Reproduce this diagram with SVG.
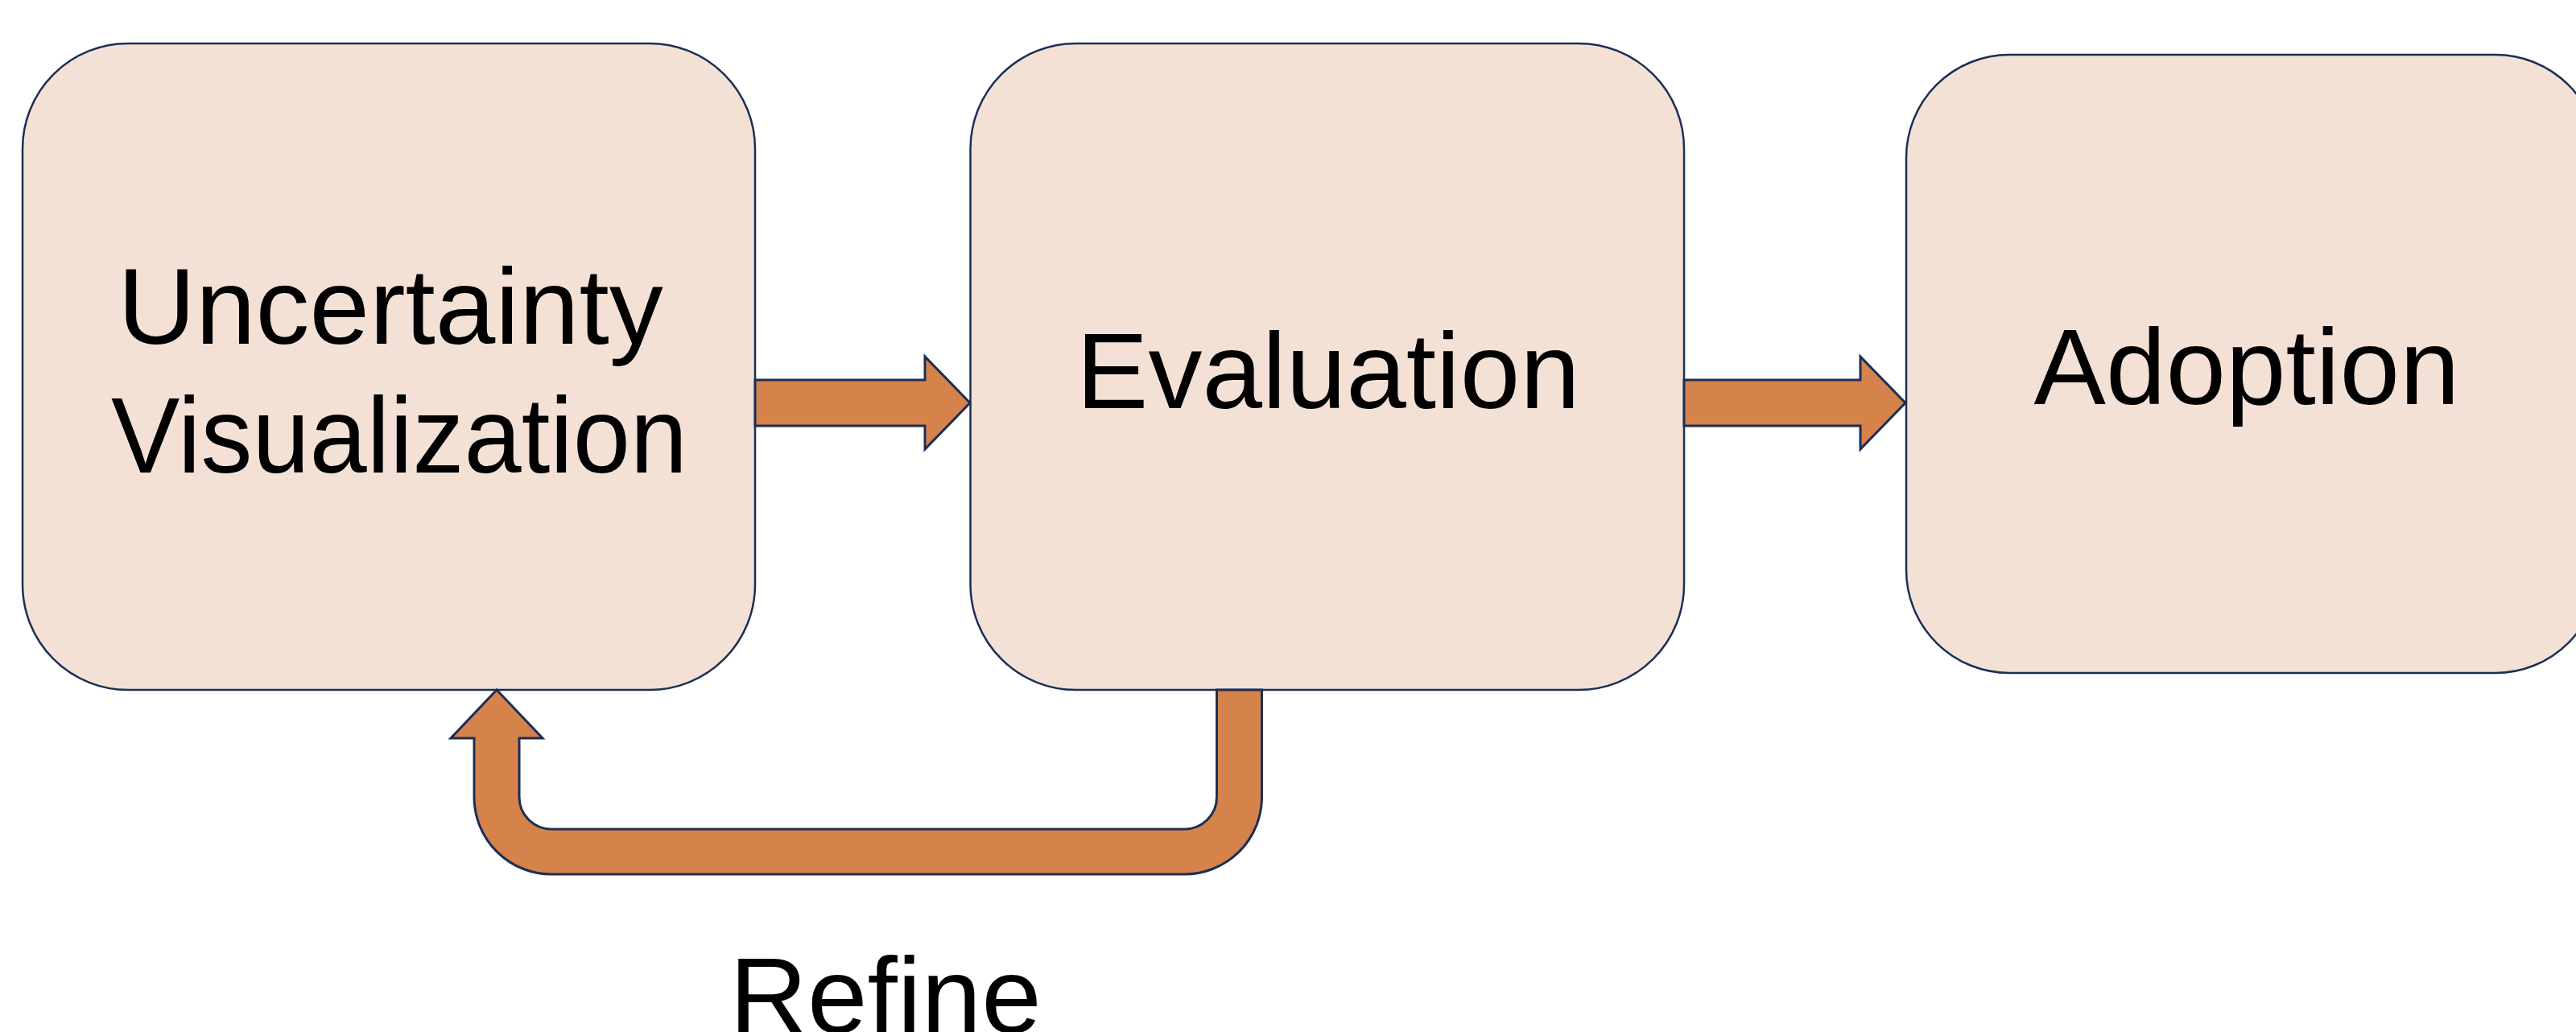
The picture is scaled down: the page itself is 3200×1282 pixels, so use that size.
<svg xmlns="http://www.w3.org/2000/svg" width="3200" height="1282" viewBox="0 0 3200 1282">
  <style>
    .box { fill: #F4E1D6; stroke: #1B2F56; stroke-width: 2.5; }
    .arrow { fill: #D6824B; stroke: #1B2F56; stroke-width: 3; stroke-linejoin: miter; }
    .lbl { font-family: "Liberation Sans", Arial, sans-serif; font-size: 134px; fill: #000; text-anchor: middle; }
  </style>
  <rect width="3200" height="1282" fill="#FFFFFF"/>
  <g id="node-uncertainty-visualization">
    <rect class="box" x="28" y="54" width="910" height="803" rx="131" ry="131"/>
    <text class="lbl" x="485" y="427">Uncertainty</text>
    <text class="lbl" x="496" y="587" textLength="716" lengthAdjust="spacingAndGlyphs">Visualization</text>
  </g>
  <g id="node-evaluation">
    <rect class="box" x="1205.5" y="54" width="886.5" height="803" rx="131" ry="131"/>
    <text class="lbl" x="1650" y="507">Evaluation</text>
  </g>
  <g id="node-adoption">
    <rect class="box" x="2368" y="68" width="860" height="768" rx="128" ry="128"/>
    <text class="lbl" x="2791" y="502">Adoption</text>
  </g>
  <g id="connectors">
    <polygon class="arrow" points="938,472 1149,472 1149,443 1205,500.5 1149,558 1149,529 938,529"/>
    <polygon class="arrow" points="2092,472 2311,472 2311,443 2367,500.5 2311,558 2311,529 2092,529"/>
    <path class="arrow" d="M 617,857 L 674,917 L 645,917 L 645,990 A 40 40 0 0 0 685,1030 L 1471.5,1030 A 40 40 0 0 0 1511.5,990 L 1511.5,857 L 1567.5,857 L 1567.5,990 A 96 96 0 0 1 1471.5,1086 L 685,1086 A 96 96 0 0 1 589,990 L 589,917 L 560,917 Z"/>
    <text class="lbl" x="1100" y="1283">Refine</text>
  </g>
</svg>
